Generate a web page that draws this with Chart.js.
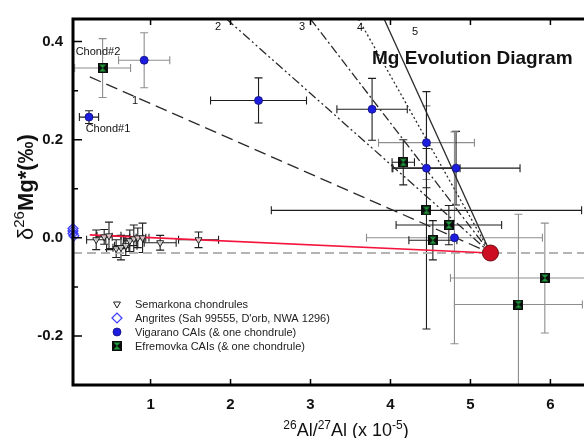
<!DOCTYPE html>
<html>
<head>
<meta charset="utf-8">
<script src="https://cdn.jsdelivr.net/npm/chart.js@4"></script>
<style>
  html, body { margin: 0; padding: 0; background: #fff; overflow: hidden; }
</style>
</head>
<body>
<canvas id="chart" width="620" height="438"></canvas>
<script>
// Semarkona chondrules
const semX = [0.32, 0.42, 0.48, 0.57, 0.63, 0.69, 0.74, 0.79, 0.84, 0.90, 1.12, 1.60];
const semY = [-0.004, 0.002, 0.004, -0.022, -0.020, -0.016, -0.006, -0.002, 0.000, 0.000, -0.010, -0.004];
const semXerr = [0.12, 0.10, 0.15, 0.12, 0.10, 0.14, 0.08, 0.12, 0.10, 0.08, 0.20, 0.25];
const semYerr = [0.020, 0.015, 0.028, 0.018, 0.025, 0.020, 0.022, 0.028, 0.020, 0.030, 0.015, 0.016];

// Angrites (Sah 99555, D'orb, NWA 1296)
const angX = [0.03, 0.03, 0.03, 0.04];
const angY = [0.019, 0.014, 0.009, 0.004];

// Vigarano CAIs (& one chondrule)
const vigX = [0.23, 0.92, 2.35, 3.77, 4.45, 4.45, 4.82, 4.80];
const vigY = [0.246, 0.362, 0.280, 0.262, 0.194, 0.142, 0.142, 0.000];
const vigXerr = [0.12, 0.32, 0.60, 0.44, 0.60, 0.42, 0.80, 1.10];
const vigYerr = [0.013, 0.056, 0.046, 0.063, 0.075, 0.040, 0.075, 0.216];

// Efremovka CAIs (& one chondrule)
const efrX = [0.40, 4.16, 4.45, 4.73, 4.53, 5.93, 5.60];
const efrY = [0.346, 0.154, 0.056, 0.026, -0.005, -0.082, -0.136];
const efrXerr = [0.35, 0.14, 1.94, 0.66, 0.30, 1.18, 0.80];
const efrYerr = [0.060, 0.046, 0.242, 0.040, 0.040, 0.112, 0.184];

// bulk solar point and the red chondrule line
const redX = [5.25];
const redY = [-0.031];
const redLineX = [0.24];
const redLineY = [0.006];

// model isochrons 1..5: upper end, all meet at the red point
const isoNames = ["1", "2", "3", "4", "5"];
const isoX = [0.24, 1.95, 3.00, 3.60, 3.92];
const isoY = [0.328, 0.446, 0.446, 0.446, 0.446];

const xTicks = [1, 2, 3, 4, 5, 6];
const yTicks = [-0.2, 0.0, 0.2, 0.4];
const yMinorTicks = [-0.1, 0.1, 0.3];

const FONT = "'Liberation Sans', Arial, sans-serif";
const GRAY = "#8e8e8e";
const DARK = "#1e1e1e";

// which error bars are drawn dark (the rest grey)
const vigTone = [DARK, GRAY, DARK, DARK, GRAY, DARK, DARK, GRAY];
const efrTone = [GRAY, DARK, DARK, DARK, DARK, GRAY, GRAY];

function pts(xs, ys) {
  return xs.map((x, i) => ({ x: x, y: ys[i] }));
}

function efreIcon(size) {
  const c = document.createElement("canvas");
  c.width = c.height = size;
  const g = c.getContext("2d");
  g.fillStyle = "#0c0c0c";
  g.fillRect(0, 0, size, size);
  g.fillStyle = "#1f9a3c";
  const m = size / 2, p = 1.5;
  g.beginPath(); g.moveTo(p, p); g.lineTo(size - p, p); g.lineTo(m, m); g.closePath(); g.fill();
  g.beginPath(); g.moveTo(p, size - p); g.lineTo(size - p, size - p); g.lineTo(m, m); g.closePath(); g.fill();
  return c;
}
const efrImg = efreIcon(10);

const isoDash = [[12, 6], [9, 3, 2, 3, 2, 3], [9, 3, 2, 3], [2, 2.5], []];

const lineSets = isoX.map((x, i) => ({
  type: "line",
  data: [{ x: x, y: isoY[i] }, { x: redX[0], y: redY[0] }],
  borderColor: "#2a2a2a",
  borderWidth: 1.3,
  borderDash: isoDash[i],
  pointRadius: 0,
  order: 3,
}));

const datasets = [
  {
    type: "line",
    data: [{ x: 0.03, y: redY[0] }, { x: 6.62, y: redY[0] }],
    borderColor: "#b4b4b4", borderWidth: 2, borderDash: [9, 5],
    pointRadius: 0, order: 4,
  },
  ...lineSets,
  {
    type: "line",
    data: [{ x: redLineX[0], y: redLineY[0] }, { x: redX[0], y: redY[0] }],
    borderColor: "#f5143c", borderWidth: 1.6, pointRadius: 0, order: 2,
  },
  {
    label: "Semarkona chondrules",
    data: pts(semX, semY),
    pointStyle: "triangle", rotation: 180, pointRadius: 4,
    backgroundColor: "rgba(255,255,255,0.7)", borderColor: "#222", borderWidth: 1,
    order: 1,
  },
  {
    label: "Angrites (Sah 99555, D'orb, NWA 1296)",
    data: pts(angX, angY),
    pointStyle: "rectRot", pointRadius: 5,
    backgroundColor: "rgba(255,255,255,0)", borderColor: "#3a3aff", borderWidth: 1.2,
    clip: false, order: 1,
  },
  {
    label: "Vigarano CAIs (& one chondrule)",
    data: pts(vigX, vigY),
    pointStyle: "circle", pointRadius: 4,
    backgroundColor: "#1d1de0", borderColor: "#10107a", borderWidth: 0.8,
    order: 1,
  },
  {
    label: "Efremovka CAIs (& one chondrule)",
    data: pts(efrX, efrY),
    pointStyle: efrImg,
    order: 1,
  },
  {
    data: pts(redX, redY),
    pointStyle: "circle", pointRadius: 8,
    backgroundColor: "#cc0d22", borderColor: "#6e0a10", borderWidth: 1,
    order: 0,
  },
];

function errBars(ctx, sx, sy, xs, ys, xe, ye, tones) {
  const cap = 4;
  ctx.lineWidth = 1.1;
  xs.forEach((x, i) => {
    const px = sx.getPixelForValue(x), py = sy.getPixelForValue(ys[i]);
    ctx.strokeStyle = tones ? tones[i] : DARK;
    ctx.beginPath();
    const x0 = sx.getPixelForValue(x - xe[i]), x1 = sx.getPixelForValue(x + xe[i]);
    ctx.moveTo(x0, py); ctx.lineTo(x1, py);
    ctx.moveTo(x0, py - cap); ctx.lineTo(x0, py + cap);
    ctx.moveTo(x1, py - cap); ctx.lineTo(x1, py + cap);
    const y0 = sy.getPixelForValue(ys[i] - ye[i]), y1 = sy.getPixelForValue(ys[i] + ye[i]);
    ctx.moveTo(px, y0); ctx.lineTo(px, y1);
    ctx.moveTo(px - cap, y0); ctx.lineTo(px + cap, y0);
    ctx.moveTo(px - cap, y1); ctx.lineTo(px + cap, y1);
    ctx.stroke();
  });
}

// text with superscripts; parts = [text, isSup, weight]
function richWidth(ctx, parts, size, weight) {
  let w = 0;
  parts.forEach(([t, sup, wt]) => {
    ctx.font = `${wt || weight} ${sup ? Math.round(size * 0.68) : size}px ${FONT}`;
    w += ctx.measureText(t).width;
  });
  return w;
}
function richText(ctx, parts, x, y, size, weight) {
  ctx.textBaseline = "alphabetic";
  ctx.textAlign = "left";
  parts.forEach(([t, sup, wt]) => {
    ctx.font = `${wt || weight} ${sup ? Math.round(size * 0.68) : size}px ${FONT}`;
    ctx.fillText(t, x, sup ? y - size * 0.4 : y);
    x += ctx.measureText(t).width;
  });
}

const decor = {
  id: "decor",
  beforeDatasetsDraw(chart) {
    const { ctx, chartArea: a, scales: { x, y } } = chart;
    ctx.save();
    ctx.beginPath();
    ctx.rect(a.left, a.top, a.right - a.left, a.bottom - a.top);
    ctx.clip();
    errBars(ctx, x, y, semX, semY, semXerr, semYerr, null);
    errBars(ctx, x, y, vigX, vigY, vigXerr, vigYerr, vigTone);
    errBars(ctx, x, y, efrX, efrY, efrXerr, efrYerr, efrTone);
    ctx.restore();
  },
  afterDraw(chart) {
    const { ctx, chartArea: a, scales: { x, y } } = chart;
    ctx.save();
    ctx.fillStyle = "#111";
    ctx.strokeStyle = "#000";

    // frame
    ctx.lineWidth = 3;
    ctx.beginPath();
    ctx.moveTo(a.right + 5, a.top); ctx.lineTo(a.left, a.top);
    ctx.lineTo(a.left, a.bottom); ctx.lineTo(a.right + 5, a.bottom);
    ctx.stroke();

    // inward ticks
    ctx.lineWidth = 1.5;
    ctx.beginPath();
    yTicks.forEach(v => {
      const py = y.getPixelForValue(v);
      ctx.moveTo(a.left, py); ctx.lineTo(a.left + 9, py);
    });
    yMinorTicks.forEach(v => {
      const py = y.getPixelForValue(v);
      ctx.moveTo(a.left, py); ctx.lineTo(a.left + 5, py);
    });
    xTicks.forEach(v => {
      const px = x.getPixelForValue(v);
      ctx.moveTo(px, a.bottom); ctx.lineTo(px, a.bottom - 6);
      ctx.moveTo(px, a.top); ctx.lineTo(px, a.top + 6);
    });
    ctx.stroke();

    // axis titles
    const xt = [["26", true], ["Al/", false], ["27", true], ["Al (x 10", false], ["-5", true], [")", false]];
    const xw = richWidth(ctx, xt, 18, "normal");
    richText(ctx, xt, 346 - xw / 2, 436, 18, "normal");

    const yt = [["\u03b4", false, "normal"], ["26", true, "normal"], ["Mg*(\u2030)", false, "bold"]];
    const yw = richWidth(ctx, yt, 22, "bold");
    ctx.save();
    ctx.translate(33, 240 - yw / 2);
    ctx.rotate(-Math.PI / 2);
    richText(ctx, yt, -yw / 2, 0, 22, "bold");
    ctx.restore();

    // title
    ctx.font = `bold 19px ${FONT}`;
    ctx.textAlign = "left";
    ctx.textBaseline = "alphabetic";
    ctx.fillText("Mg Evolution Diagram", 372, 64);

    // isochron numbers and chondrule labels
    ctx.font = `11px ${FONT}`;
    ctx.textAlign = "center";
    ctx.textBaseline = "middle";
    const numPos = [[135, 101], [218, 27], [302, 27], [360, 28], [415, 32]];
    isoNames.forEach((n, i) => ctx.fillText(n, numPos[i][0], numPos[i][1]));
    ctx.fillText("Chond#2", 98, 52);
    ctx.fillText("Chond#1", 108, 129);

    // legend
    const items = chart.data.datasets.filter(d => d.label);
    ctx.textAlign = "left";
    items.forEach((d, i) => {
      const ly = 304 + i * 14, lx = 117;
      if (d.pointStyle === efrImg) {
        ctx.drawImage(efrImg, lx - 5, ly - 5);
      } else {
        ctx.fillStyle = d.backgroundColor;
        ctx.strokeStyle = d.borderColor;
        ctx.lineWidth = d.borderWidth;
        Chart.helpers.drawPoint(ctx, {
          pointStyle: d.pointStyle, rotation: d.rotation || 0,
          radius: d.pointRadius, borderWidth: d.borderWidth,
        }, lx, ly);
      }
      ctx.fillStyle = "#222";
      ctx.font = `11px ${FONT}`;
      ctx.fillText(d.label, 135, ly + 1);
    });
    ctx.restore();
  },
};

new Chart(document.getElementById("chart"), {
  type: "scatter",
  data: { datasets },
  options: {
    responsive: false,
    animation: false,
    layout: { padding: { top: 12, right: 20, left: 0, bottom: 0 } },
    plugins: { legend: { display: false }, tooltip: { enabled: false } },
    scales: {
      x: {
        type: "linear", min: 0.03, max: 6.62,
        grid: { display: false, drawTicks: false }, border: { display: false },
        afterFit(s) { s.height = 53; },
        afterBuildTicks(s) { s.ticks = xTicks.map(v => ({ value: v })); },
        ticks: {
          autoSkip: false, maxRotation: 0, padding: 11, color: "#111",
          font: { family: FONT, size: 15, weight: "bold" },
          callback: v => String(v),
        },
      },
      y: {
        type: "linear", min: -0.3, max: 0.446,
        grid: { display: false, drawTicks: false }, border: { display: false },
        afterFit(s) { s.width = 73; },
        afterBuildTicks(s) { s.ticks = yTicks.map(v => ({ value: v })); },
        ticks: {
          autoSkip: false, padding: 10, color: "#111",
          font: { family: FONT, size: 15, weight: "bold" },
          callback: v => v.toFixed(1),
        },
      },
    },
  },
  plugins: [decor],
});
</script>
</body>
</html>
